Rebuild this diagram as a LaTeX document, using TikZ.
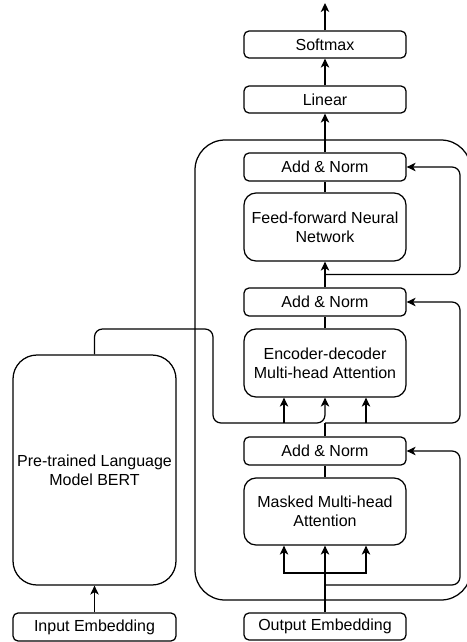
\documentclass[tikz,border=0pt]{standalone}
\usepackage{fontspec}
\setmainfont{Liberation Sans}
\usetikzlibrary{calc,arrows.meta}

\begin{document}
\begin{tikzpicture}[x=1pt,y=-1pt,line width=1.25pt,
  blk/.style={draw,rounded corners=5pt,minimum width=162pt,minimum height=27pt,
    inner sep=0pt,align=center,font=\fontsize{16}{19}\selectfont},
  bigblk/.style={blk,rounded corners=12pt,minimum height=68pt},
  arr/.style={-{Stealth[length=9pt,width=8.5pt,inset=2.5pt]}}]
  \useasboundingbox (0,0) rectangle (466,642);

  % decoder stack
  \node[blk] (softmax) at (325,44.5) {Softmax};
  \node[blk] (linear) at (325,99.5) {Linear};
  \node[blk,minimum height=28pt] (an1) at (325,167) {Add \& Norm};
  \node[bigblk] (ffn) at (325,227) {Feed-forward Neural\\Network};
  \node[blk,minimum height=28pt] (an2) at (325,302) {Add \& Norm};
  \node[bigblk] (encdec) at (325,363) {Encoder-decoder\\Multi-head Attention};
  \node[blk,minimum height=28pt] (an3) at (325,451) {Add \& Norm};
  \node[bigblk,minimum height=67pt] (masked) at (325,511.5) {Masked Multi-head\\Attention};
  \node[blk] (outemb) at (325,626.5) {Output Embedding};

  % encoder side
  \node[blk,rounded corners=24pt,minimum width=163pt,minimum height=230pt] (bert) at (94.5,470)
    {Pre-trained Language\\Model BERT};
  \node[blk,minimum width=163pt,minimum height=28pt] (inemb) at (94.5,627) {Input Embedding};

  % decoder frame, right edge runs off the page
  \draw[rounded corners=30pt] (195,140) rectangle (471,600);

  \coordinate (out) at (325,3);
  \coordinate (split1) at ($(an2.north)!0.5!(ffn.south)$);
  \coordinate (split2) at (325,423);
  \coordinate (split3) at (325,573);
  \coordinate (split4) at (325,585);
  \coordinate (bend) at (213,329);

  \draw[arr] (softmax) -- (out);
  \draw[arr] (linear) -- (softmax);
  \draw[arr] (an1) -- (linear);
  \draw (ffn) -- (an1);
  \draw[arr] (an2) -- (ffn);
  \draw (encdec) -- (an2);
  \draw (an3) -- (split2);
  \draw (masked) -- (an3);
  \draw[arr] (outemb) -- (masked);
  \draw[arr] (inemb) -- (bert);

  % residual paths
  \draw[arr,rounded corners=8pt] (split1) -| (460,167) -- (an1.east);
  \draw[arr,rounded corners=8pt] (split2) -| (460,302) -- (an2.east);
  \draw[arr,rounded corners=8pt] (split4) -| (460,451) -- (an3.east);

  % attention inputs
  \draw[arr,rounded corners=8pt] (bert.north) |- (bend) |- (split2) -- (encdec.south);
  \draw[arr] (split2 -| 284,0) -- ([xshift=-41pt]encdec.south);
  \draw[arr] (split2 -| 366,0) -- ([xshift=41pt]encdec.south);
  \draw[arr] (split3) -| ([xshift=-41pt]masked.south);
  \draw[arr] (split3) -| ([xshift=41pt]masked.south);
\end{tikzpicture}
\end{document}
